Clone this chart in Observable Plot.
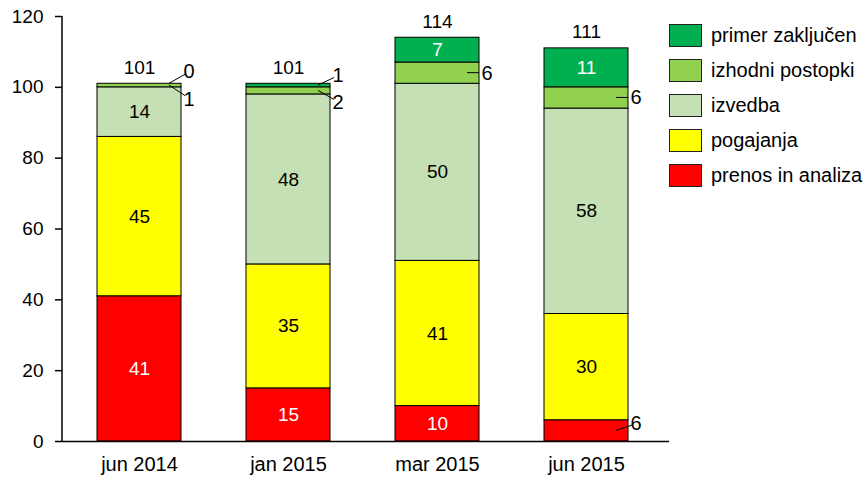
<!DOCTYPE html>
<html>
<head>
<meta charset="utf-8">
<script src="https://cdn.jsdelivr.net/npm/d3@7"></script>
<script src="https://cdn.jsdelivr.net/npm/@observablehq/plot@0.6"></script>
<style>
  html, body { margin: 0; padding: 0; background: #fff; }
  #wrap { position: relative; width: 865px; height: 489px; font-family: "Liberation Sans", Arial, sans-serif; }
  #legend { position: absolute; left: 669px; top: 24px; font-size: 20px; color: #000; }
  .row { display: flex; align-items: center; height: 23px; margin-bottom: 12px; white-space: nowrap; }
  .sw { width: 31px; height: 21px; border: 1px solid #222; margin-right: 9px; flex: none; }
</style>
</head>
<body>
<div id="wrap"><div id="legend"></div></div>
<script>
// ---- data ----
const categories = ["jun 2014", "jan 2015", "mar 2015", "jun 2015"];
const series = ["prenos in analiza", "pogajanja", "izvedba", "izhodni postopki", "primer zaključen"];
const prenosInAnaliza = [41, 15, 10, 6];
const pogajanja = [45, 35, 41, 30];
const izvedba = [14, 48, 50, 58];
const izhodniPostopki = [1, 2, 6, 6];
const primerZakljucen = [0, 1, 7, 11];
const totals = [101, 101, 114, 111];
const yTicks = [0, 20, 40, 60, 80, 100, 120];
const colors = ["#FF0000", "#FFFF00", "#C5E0B4", "#92D050", "#00B050"];
const whiteText = ["prenos in analiza", "primer zaključen"];
// small segments labelled outside the bar, with a vertical label offset (px)
const outsideLabels = [
  {cat: "jun 2014", series: "primer zaključen", dy: -12},
  {cat: "jun 2014", series: "izhodni postopki", dy: 14},
  {cat: "jan 2015", series: "primer zaključen", dy: -10},
  {cat: "jan 2015", series: "izhodni postopki", dy: 12},
  {cat: "mar 2015", series: "izhodni postopki", dy: 0},
  {cat: "jun 2015", series: "izhodni postopki", dy: 0},
  {cat: "jun 2015", series: "prenos in analiza", dy: -7}
];

// ---- build stacked table ----
const valuesBySeries = [prenosInAnaliza, pogajanja, izvedba, izhodniPostopki, primerZakljucen];
const rows = [];
categories.forEach((cat, i) => {
  let acc = 0;
  series.forEach((s, j) => {
    const v = valuesBySeries[j][i];
    rows.push({cat, series: s, value: v, y0: acc, y1: acc + v});
    acc += v;
  });
});
const isOutside = d => outsideLabels.some(o => o.cat === d.cat && o.series === d.series);
const inside = rows.filter(d => !isOutside(d));
const totalRows = categories.map((cat, i) => ({cat, total: totals[i]}));
const outsideRows = outsideLabels.map(o => ({...o, ...rows.find(r => r.cat === o.cat && r.series === o.series)}));

const font = "'Liberation Sans', Arial, sans-serif";

const plot = Plot.plot({
  width: 865,
  height: 489,
  marginLeft: 62,
  marginRight: 196,
  marginTop: 16,
  marginBottom: 48,
  style: {fontFamily: font, fontSize: "19px", color: "#000", background: "transparent"},
  x: {domain: categories, range: [62, 663], paddingInner: 0.433, paddingOuter: 0.22},
  y: {domain: [0, 120]},
  color: {domain: series, range: colors},
  marks: [
    Plot.barY(rows, {x: "cat", y1: "y0", y2: "y1", fill: "series", stroke: "#000", strokeWidth: 1}),
    Plot.ruleY([0], {stroke: "#000", strokeWidth: 1.5}),
    Plot.axisY({ticks: yTicks, tickSize: 7, tickPadding: 12, label: null, stroke: "#000", strokeOpacity: 1, strokeWidth: 1.5, fontSize: 19, fill: "#000"}),
    Plot.axisX({tickSize: 0, tickPadding: 15, label: null, fontSize: 20, fill: "#000"}),
    Plot.text(inside, {
      x: "cat", y: d => (d.y0 + d.y1) / 2, text: d => String(d.value),
      fill: d => whiteText.includes(d.series) ? "#fff" : "#000", fontSize: 19
    }),
    Plot.text(totalRows, {x: "cat", y: "total", text: d => String(d.total), dy: -16, fill: "#000", fontSize: 19})
  ]
});
document.getElementById("wrap").appendChild(plot);

// y-axis line, outside labels and leader lines positioned through Plot's scales
const xs = plot.scale("x"), ys = plot.scale("y");
const svg = d3.select(plot);
svg.append("line")
  .attr("x1", 62).attr("x2", 62)
  .attr("y1", ys.apply(yTicks[0])).attr("y2", ys.apply(yTicks[yTicks.length - 1]))
  .attr("stroke", "#000").attr("stroke-width", 1.5);
outsideRows.forEach(d => {
  const xr = xs.apply(d.cat) + xs.bandwidth;
  const ym = ys.apply((d.y0 + d.y1) / 2);
  const yl = ym + d.dy;
  const lineEndY = d.dy === 0 ? ym : ym + d.dy * 0.75;
  svg.append("line")
    .attr("x1", xr - 12).attr("y1", ym)
    .attr("x2", xr + (d.dy === 0 ? 0 : 4)).attr("y2", lineEndY)
    .attr("stroke", "#000").attr("stroke-width", 1);
  svg.append("text")
    .attr("x", xr + 8).attr("y", yl).attr("dy", "0.35em")
    .attr("font-family", font).attr("font-size", 20).attr("fill", "#000")
    .text(String(d.value));
});

// legend (top to bottom: reverse of stacking order)
const legend = d3.select("#legend");
series.slice().reverse().forEach(s => {
  const r = legend.append("div").attr("class", "row");
  r.append("div").attr("class", "sw").style("background", colors[series.indexOf(s)]);
  r.append("span").text(s);
});
</script>
</body>
</html>
